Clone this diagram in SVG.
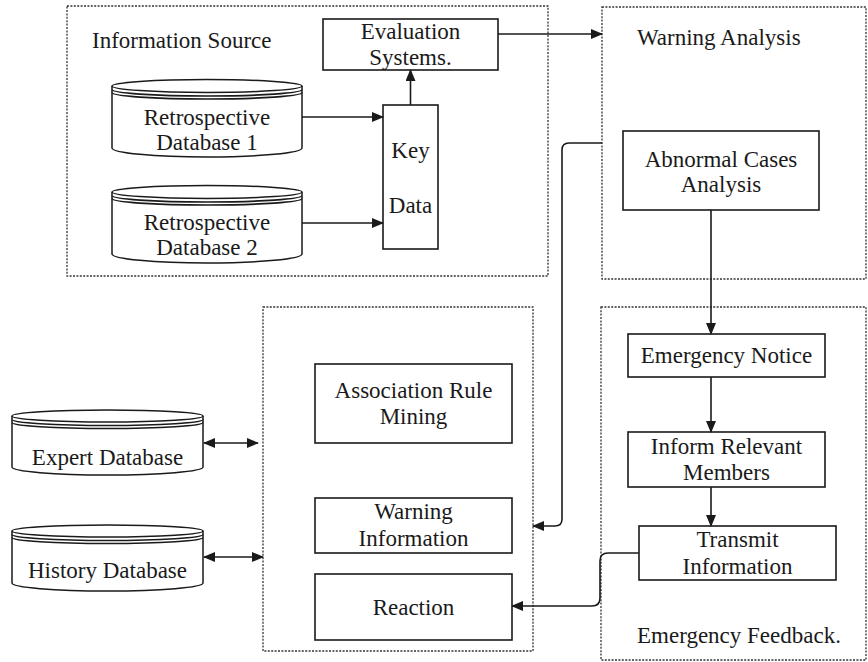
<svg xmlns="http://www.w3.org/2000/svg" width="868" height="662" viewBox="0 0 868 662">
<style>
text{font-family:'Liberation Serif','DejaVu Serif',serif;font-size:23px;fill:#1a1a1a;text-anchor:middle}
.l{text-anchor:start}
.grp{fill:none;stroke:#333;stroke-width:1.3;stroke-dasharray:2 1.4}
.box{fill:#fff;stroke:#1a1a1a;stroke-width:1.6}
.cyl{fill:#fff;stroke:#1a1a1a;stroke-width:1.5}
.ln{fill:none;stroke:#1a1a1a;stroke-width:1.6}
.c{fill:none;stroke:#1a1a1a;stroke-width:1.6}
</style>
<defs>
<marker id="ah" markerWidth="12" markerHeight="10" refX="11" refY="5" orient="auto" markerUnits="userSpaceOnUse">
<path d="M0,0 L12,5 L0,10 Z" fill="#1a1a1a"/>
</marker>
<marker id="as" markerWidth="12" markerHeight="10" refX="1" refY="5" orient="auto" markerUnits="userSpaceOnUse">
<path d="M12,0 L0,5 L12,10 Z" fill="#1a1a1a"/>
</marker>
</defs>
<rect width="868" height="662" fill="#fff"/>
<g font-family="Liberation Serif, serif">
<g id="grp-information-source">
<rect class="grp" x="67" y="6" width="481" height="270"/>
<text class="l" x="92" y="48">Information Source</text>
</g>
<g id="grp-warning-analysis">
<rect class="grp" x="602" y="7" width="264" height="272"/>
<text class="l" x="637" y="45">Warning Analysis</text>
</g>
<g id="grp-middle">
<rect class="grp" x="263" y="307" width="270" height="344"/>
</g>
<g id="grp-emergency-feedback">
<rect class="grp" x="601" y="307" width="265" height="353"/>
<text class="l" x="637" y="643">Emergency Feedback.</text>
</g>

<g id="evaluation-systems">
<rect class="box" x="323" y="19" width="175" height="51"/>
<text x="410.5" y="39">Evaluation</text>
<text x="410.5" y="65">Systems.</text>
</g>
<g id="key-data">
<rect class="box" x="383" y="105" width="55" height="144"/>
<text x="410.5" y="158">Key</text>
<text x="410.5" y="213">Data</text>
</g>
<g id="retro-db-1">
<path class="cyl" d="M112,86 L112,148 A95,9 0 0 0 302,148 L302,86"/>
<ellipse class="cyl" cx="207" cy="86" rx="95" ry="6.5"/>
<path class="ln" d="M112,89.5 A95,6.5 0 0 0 302,89.5 M112,92.5 A95,6.5 0 0 0 302,92.5" stroke-width="1.3"/>
<text x="207" y="125">Retrospective</text>
<text x="207" y="150">Database 1</text>
</g>
<g id="retro-db-2">
<path class="cyl" d="M112,192 L112,254 A95,9 0 0 0 302,254 L302,192"/>
<ellipse class="cyl" cx="207" cy="192" rx="95" ry="6.5"/>
<path class="ln" d="M112,195.5 A95,6.5 0 0 0 302,195.5 M112,198.5 A95,6.5 0 0 0 302,198.5" stroke-width="1.3"/>
<text x="207" y="230">Retrospective</text>
<text x="207" y="255">Database 2</text>
</g>
<g id="abnormal-cases-analysis">
<rect class="box" x="623" y="131" width="196" height="79"/>
<text x="721" y="167">Abnormal Cases</text>
<text x="721" y="192">Analysis</text>
</g>
<g id="emergency-notice">
<rect class="box" x="628" y="334" width="197" height="43"/>
<text x="726.5" y="363">Emergency Notice</text>
</g>
<g id="inform-relevant-members">
<rect class="box" x="628" y="432" width="197" height="55"/>
<text x="726.5" y="454">Inform Relevant</text>
<text x="726.5" y="480">Members</text>
</g>
<g id="transmit-information">
<rect class="box" x="639" y="526" width="197" height="54"/>
<text x="737.5" y="547">Transmit</text>
<text x="737.5" y="574">Information</text>
</g>
<g id="association-rule-mining">
<rect class="box" x="315" y="364" width="197" height="79"/>
<text x="413.5" y="398">Association Rule</text>
<text x="413.5" y="424">Mining</text>
</g>
<g id="warning-information">
<rect class="box" x="315" y="498" width="197" height="55"/>
<text x="413.5" y="519">Warning</text>
<text x="413.5" y="546">Information</text>
</g>
<g id="reaction">
<rect class="box" x="315" y="574" width="197" height="66"/>
<text x="413.5" y="615">Reaction</text>
</g>
<g id="expert-database">
<path class="cyl" d="M12,416 L12,467 A95.5,8 0 0 0 203,467 L203,416"/>
<ellipse class="cyl" cx="107.5" cy="416" rx="95.5" ry="6"/>
<path class="ln" d="M12,419.5 A95.5,6 0 0 0 203,419.5 M12,422.5 A95.5,6 0 0 0 203,422.5" stroke-width="1.3"/>
<text x="107.5" y="465">Expert Database</text>
</g>
<g id="history-database">
<path class="cyl" d="M12,531 L12,583 A95.5,8 0 0 0 203,583 L203,531"/>
<ellipse class="cyl" cx="107.5" cy="531" rx="95.5" ry="6"/>
<path class="ln" d="M12,534.5 A95.5,6 0 0 0 203,534.5 M12,537.5 A95.5,6 0 0 0 203,537.5" stroke-width="1.3"/>
<text x="107.5" y="578">History Database</text>
</g>
</g>
<g id="connectors">
<path class="c" d="M302,117 L383,117" marker-end="url(#ah)"/>
<path class="c" d="M302,223 L383,223" marker-end="url(#ah)"/>
<path class="c" d="M410.5,105 L410.5,70" marker-end="url(#ah)"/>
<path class="c" d="M498,34 L602,34" marker-end="url(#ah)"/>
<path class="c" d="M602,143 L569,143 Q562,143 562,150 L562,519 Q562,526 555,526 L533,526" marker-end="url(#ah)"/>
<path class="c" d="M711,210 L711,334" marker-end="url(#ah)"/>
<path class="c" d="M711,377 L711,432" marker-end="url(#ah)"/>
<path class="c" d="M711,487 L711,526" marker-end="url(#ah)"/>
<path class="c" d="M639,553 L608,553 Q600,553 600,561 L600,598 Q600,606 592,606 L512,606" marker-end="url(#ah)"/>
<path class="c" d="M204,443 L258,443" marker-start="url(#as)" marker-end="url(#ah)"/>
<path class="c" d="M204,557 L263,557" marker-start="url(#as)" marker-end="url(#ah)"/>
</g>
</svg>
